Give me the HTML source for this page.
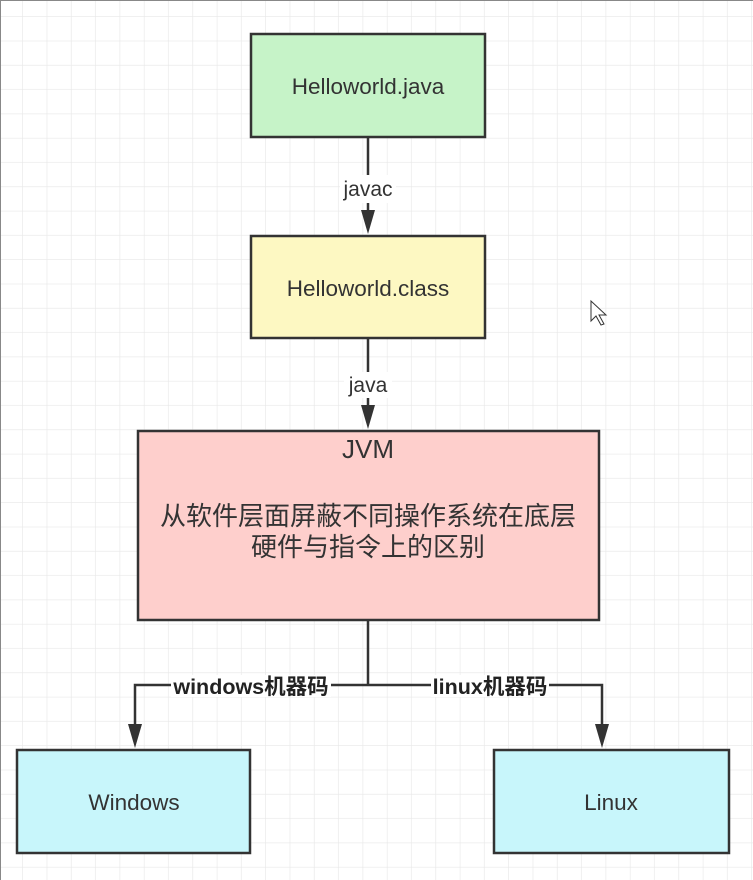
<!DOCTYPE html>
<html><head><meta charset="utf-8"><style>
html,body{margin:0;padding:0;background:#fff}
svg{display:block}
text{font-family:"Liberation Sans","Noto Sans CJK SC",sans-serif;fill:#333}
</style></head><body>
<svg width="753" height="880" viewBox="0 0 753 880" xmlns="http://www.w3.org/2000/svg">
<defs>
<pattern id="g" x="-1.3" y="-7.3" width="24.3" height="24.3" patternUnits="userSpaceOnUse">
<path d="M24.3 0V24.3M0 24.3H24.3" stroke="#e8e8e8" stroke-width="1.3" fill="none"/>
</pattern>
</defs>
<rect width="753" height="880" fill="#fff"/>
<rect width="753" height="880" fill="url(#g)"/>
<path d="M0.5 880V0.5H753" stroke="#888" fill="none"/>
<rect x="251" y="34" width="234" height="103" fill="#c6f3c8" stroke="#333" stroke-width="2.5"/>
<text x="368" y="94" font-size="22.5" text-anchor="middle">Helloworld.java</text>
<rect x="251" y="236" width="234" height="102" fill="#fdf8c2" stroke="#333" stroke-width="2.5"/>
<text x="368" y="296" font-size="22.5" text-anchor="middle">Helloworld.class</text>
<rect x="138" y="431" width="461" height="189" fill="#fecfcc" stroke="#333" stroke-width="2.5"/>
<text x="368" y="458" font-size="26" text-anchor="middle">JVM</text>
<text x="368" y="525" font-size="26" text-anchor="middle">从软件层面屏蔽不同操作系统在底层</text>
<text x="368" y="556" font-size="26" text-anchor="middle">硬件与指令上的区别</text>
<rect x="17" y="750" width="233" height="103" fill="#c8f6fb" stroke="#333" stroke-width="2.5"/>
<text x="134" y="810" font-size="22.5" text-anchor="middle">Windows</text>
<rect x="494" y="750" width="235" height="103" fill="#c8f6fb" stroke="#333" stroke-width="2.5"/>
<text x="611" y="810" font-size="22.5" text-anchor="middle">Linux</text>
<g stroke="#333" stroke-width="2.5" fill="none">
<path d="M368 137V222"/>
<path d="M368 338V417"/>
<path d="M368 620V685M135 736V685H602V736"/>
</g>
<g fill="#333">
<path d="M361 210L375 210L368 234Z"/>
<path d="M361 405L375 405L368 429Z"/>
<path d="M128 724L142 724L135 748Z"/>
<path d="M595 724L609 724L602 748Z"/>
</g>
<rect x="340" y="175" width="56" height="28" fill="#fff"/>
<text x="368" y="196" font-size="21" text-anchor="middle">javac</text>
<rect x="344" y="372" width="48" height="26" fill="#fff"/>
<text x="368" y="392" font-size="21" text-anchor="middle">java</text>
<rect x="171" y="675" width="160" height="22" fill="#fff"/>
<text x="251" y="694" font-size="21.5" font-weight="bold" text-anchor="middle" style="fill:#222">windows机器码</text>
<rect x="431" y="675" width="118" height="22" fill="#fff"/>
<text x="490" y="694" font-size="21.5" font-weight="bold" text-anchor="middle" style="fill:#222">linux机器码</text>
<path d="M591 301l0 20 5-5 5 9 3-1-5-9 7 0z" fill="#fff" stroke="#333" stroke-width="1"/>
</svg>
</body></html>
